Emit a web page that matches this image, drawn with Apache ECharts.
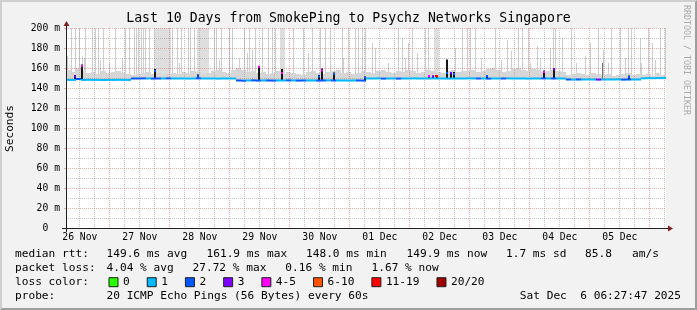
<!DOCTYPE html>
<html>
<head>
<meta charset="utf-8">
<script src="https://cdn.jsdelivr.net/npm/echarts@6.0.0/dist/echarts.min.js"></script>
<style>
html,body{margin:0;padding:0;background:#f2f2f2;}
#chart{width:697px;height:310px;}
</style>
</head>
<body>
<div id="chart"></div>
<script>
// ---------------- data ----------------
const titleText = 'Last 10 Days from SmokePing to Psychz Networks Singapore';
const dayLabels = ['26 Nov','27 Nov','28 Nov','29 Nov','30 Nov','01 Dec','02 Dec','03 Dec','04 Dec','05 Dec'];
const spanHours = 240;            // 26 Nov 06:27:47 .. 06 Dec 06:27:47
const firstMidnightHour = 17.537; // 27 Nov 00:00 in hours after start
const binHours = 2;

// median rtt (ms) per 2 h bin
const medianRtt = [
 148.1,148.1,149.0,148.1,148.2,148.1,148.1,148.0,148.1,148.1,148.2,148.1,148.1,
 149.5,149.5,149.6,149.5,149.4,149.5,149.5,149.6,149.5,149.5,149.5,149.4,149.5,149.6,149.5,149.5,149.5,149.4,149.5,149.5,149.5,
 147.5,147.3,147.5,147.6,147.4,147.5,147.5,147.4,147.5,147.5,147.6,147.5,147.4,147.5,147.5,147.5,147.4,147.5,147.6,147.5,147.5,147.5,147.4,147.5,147.5,147.4,
 149.5,149.5,149.6,149.4,149.5,149.5,149.4,149.5,149.5,149.6,149.5,149.5,149.5,149.6,149.5,149.5,149.4,149.5,149.5,149.5,
 149.6,149.6,149.5,149.5,149.4,149.5,149.5,149.5,149.6,149.5,149.5,149.5,149.4,149.5,149.5,149.6,149.5,149.5,149.5,149.5,
 148.5,148.4,148.5,148.5,148.6,148.5,148.4,148.5,148.5,148.5,148.6,148.4,148.5,148.5,148.5,
 149.7,149.8,149.8,149.9,149.9
];
// loss colour class per bin (index into lossNames)
const lossLevel = [
 1,1,2,1,1,1,1,1,1,1,1,1,1,
 2,2,2,1,2,2,1,2,1,1,1,1,1,2,1,1,1,1,1,1,1,
 2,2,1,2,2,1,2,2,1,1,2,1,2,2,1,1,2,2,1,2,1,1,1,1,2,2,
 1,1,1,2,1,1,2,1,1,1,1,1,1,1,1,1,1,1,1,1,
 1,1,2,1,2,1,1,2,1,1,1,1,1,1,1,2,1,2,1,1,
 2,1,2,1,1,1,3,1,1,1,1,2,2,1,1,
 1,1,1,1,1
];
// upper edge of the smoke just above the median, per bin
const smokeTop = [
 158,156,160,157,155,156,154,157,155,156,157,155,154,
 153,154,155,156,154,155,153,154,155,154,156,155,157,156,154,155,157,158,156,155,158,
 160,158,156,157,155,156,154,155,157,154,156,155,154,153,156,157,155,154,156,157,158,155,156,154,155,157,
 156,155,157,158,156,155,157,156,158,157,155,156,158,157,156,155,157,158,156,157,
 157,158,156,157,159,160,158,156,157,159,160,158,157,159,158,156,157,158,157,156,
 153,154,155,154,153,155,154,153,154,152,153,154,155,153,154,
 153,154,152,155,153
];
// single outlier pings (hour, highest rtt ms)
const outlierHour = [2.3,3.9,5.5,7.9,10.5,11.9,12.9,14.8,19.9,23.9,25.2,27.2,28.3,28.9,30.0,30.9,31.9,33.2,42.5,44.5,46.3,48.9,49.9,51.2,59.2,60.1,62.3,65.2,66.5,71.2,73.2,75.9,78.5,81.1,82.4,83.7,91.1,95.1,98.4,101.7,103.7,105.7,110.4,113.1,115.7,117.1,118.4,119.7,133.0,138.4,143.7,145.1,158.4,160.4,161.6,163.9,171.6,180.9,182.7,184.9,194.9,195.9,202.3,212.9,218.3,221.6,224.9,226.3,232.9,237.6,239.6,
 0.5,6.6,7.2,13.9,17.2,22.5,45.2,61.2,69.2,72.5,74.5,96.9,110.9,122.4,123.7,128.9,134.4,135.7,137.1,140.4,155.7,166.3,174.3,176.4,178.3,185.6,188.4,189.6,193.6,198.4,204.3,207.6,209.7,215.0,216.9,223.6,229.7,230.3,234.4,235.6];
const outlierTop = [200,200,200,200,200,200,200,200,200,200,200,200,200,200,200,200,200,200,200,200,200,200,200,200,200,200,200,200,200,200,200,200,200,200,200,200,200,200,200,200,200,200,200,200,200,200,200,200,200,200,200,200,200,200,200,200,200,200,200,200,200,200,200,200,200,200,200,200,200,200,200,
 172,172,170,168,165,170,165,168,170,175,178,175,170,185,180,165,190,170,185,175,180,170,168,188,177,165,182,170,180,190,165,172,185,178,165,170,190,165,185,168];
// dense periods of outliers (hours)
const bandFrom = [35.2, 52.5, 85.7, 147.1];
const bandTo   = [41.9, 57.2, 87.5, 149.1];
// short episodes with raised median
const peakHour   = [3.5, 6.5, 35.7, 52.7, 77.0, 86.3, 101.2, 102.5, 107.0, 119.7, 145.0, 146.6, 148.2, 152.3, 153.9, 155.3, 168.5, 191.0, 195.0, 225.3];
const peakMedian = [151.5,161.9,157.0,151.5,161.2,155.0,151.5,157.5,154.0,150.5,152.0,151.5,152.0,155.0,155.0,154.0,152.0,156.0,158.5,151.0];
const peakTop    = [153.0,163.5,159.0,153.5,162.0,159.0,153.0,159.5,155.5,151.5,153.0,152.5,153.0,168.5,156.0,156.0,153.0,157.5,160.0,152.5];
const peakLoss   = [3,4,2,2,4,4,2,4,2,2,4,3,6,2,3,2,2,4,3,2];
const greySpikeHour = [214.7];
const greySpikeTop  = [165];

const lossNames  = ['0','1','2','3','4-5','6-10','11-19','20/20'];
const lossColors = ['#26ff00','#00b8ff','#0059ff','#7e00ff','#ff00ff','#ff5500','#ff0000','#a00000'];

// ---------------- layout / style ----------------
const FONT = '"DejaVu Sans Mono", monospace';
const W = 697, H = 310;
const gLeft = 66, gTop = 28, gW = 600, gH = 200;
const C = {canvas:'#ffffff', back:'#f2f2f2', shadeA:'#cfcfcf', shadeB:'#9e9e9e',
  grid:'rgba(143,143,143,0.5)', mgrid:'rgba(222,79,79,0.45)', font:'#000000',
  arrow:'#801f1f', axis:'#1f1f1f', water:'#aaaaaa'};
const FS_TITLE = 13.2, FS_LEG = 11.16, FS_AXIS = 9.72;

// grid positions (hours / ms)
const noonHours = dayLabels.map((d, k) => firstMidnightHour - 12 + 24 * k);
const vGrid = [];
for (let h = firstMidnightHour - 12; h <= spanHours; h += 6) {
  const k = Math.round((h - firstMidnightHour) / 6);
  vGrid.push([h, (k % 4 === 0) ? 1 : 0]);
}
const hGrid = [];
for (let v = 10; v <= 200; v += 10) hGrid.push([v, (v % 20 === 0) ? 1 : 0]);

// ---------------- renderers ----------------
const spanRect = fill => (params, api) => {  // [h0, h1, lo, hi]
  const a = api.coord([api.value(0), api.value(3)]);
  const b = api.coord([api.value(1), api.value(2)]);
  const x0 = Math.round(a[0]), x1 = Math.max(Math.round(b[0]), x0 + 1);
  return {type:'rect', shape:{x:x0, y:a[1], width:x1 - x0, height:b[1] - a[1]},
    style:{fill: fill || api.visual('color')}};
};
const column = (wpx, fill) => (params, api) => {  // [h, lo, hi]
  const a = api.coord([api.value(0), api.value(2)]);
  const b = api.coord([api.value(0), api.value(1)]);
  const x0 = Math.floor(a[0] - wpx / 2 + 0.5);
  return {type:'rect', shape:{x:x0, y:a[1], width:wpx, height:b[1] - a[1]}, style:{fill}};
};

const baseOf = h => medianRtt[Math.min(medianRtt.length - 1, Math.floor(h / binHours))];

const series = [];
series.push({type:'custom', name:'bands', silent:true, clip:true, z:1,
  data: bandFrom.map((f, i) => [f, bandTo[i], baseOf(f), 200]), renderItem: spanRect('#dedede')});
series.push({type:'custom', name:'outliers', silent:true, clip:true, z:1,
  data: outlierHour.map((h, i) => [h, baseOf(h), outlierTop[i]]), renderItem: column(1, '#cdcdcd')});
series.push({type:'custom', name:'smoke', silent:true, clip:true, z:1,
  data: smokeTop.map((t, i) => [i * binHours, (i + 1) * binHours, medianRtt[i], t]), renderItem: spanRect('#d6d6d6')});
series.push({type:'custom', name:'greySmoke', silent:true, clip:true, z:1,
  data: greySpikeHour.map((h, i) => [h, baseOf(h), greySpikeTop[i]]), renderItem: column(1, '#707070')});
// grid lines
series.push({type:'custom', name:'vgrid', silent:true, z:2, data: vGrid,
  renderItem: (params, api) => {
    const p = api.coord([api.value(0), 0]), q = api.coord([api.value(0), 200]);
    const x = Math.floor(p[0]) + 0.5;
    return {type:'line', shape:{x1:x, y1:q[1], x2:x, y2:p[1]},
      style:{stroke: api.value(1) ? C.mgrid : C.grid, lineWidth:1, lineDash:[1,1]}};
  }});
series.push({type:'custom', name:'hgrid', silent:true, z:2, data: hGrid,
  renderItem: (params, api) => {
    const p = api.coord([0, api.value(0)]), q = api.coord([spanHours, api.value(0)]);
    const y = Math.floor(p[1]) + 0.5;
    return {type:'line', shape:{x1:p[0], y1:y, x2:q[0], y2:y},
      style:{stroke: api.value(1) ? C.mgrid : C.grid, lineWidth:1, lineDash:[1,1]}};
  }});
// dense smoke of the episodes
series.push({type:'custom', name:'peakSmoke', silent:true, clip:true, z:3,
  data: peakHour.map((h, i) => [h, baseOf(h), peakTop[i]]), renderItem: column(2, '#161616')});
// median, one series per loss class
lossNames.forEach((name, lvl) => {
  const data = [];
  medianRtt.forEach((m, i) => { if (lossLevel[i] === lvl) data.push([i * binHours, (i + 1) * binHours, m - 1, m + 1]); });
  peakHour.forEach((h, i) => { if (peakLoss[i] === lvl) data.push([h - 0.4, h + 0.4, peakMedian[i] - 1, peakMedian[i] + 1]); });
  series.push({type:'custom', name, clip:true, z:4, silent:true,
    itemStyle:{color: lossColors[lvl]}, data, renderItem: spanRect(null)});
});

// ---------------- decorations & text ----------------
const txt = (x, y, text, size, extra) => Object.assign({type:'text', x, y, silent:true, z:100,
  style:Object.assign({text, fontFamily:FONT, fontSize:size, fill:C.font, align:'left', verticalAlign:'middle'}, (extra && extra.style) || {})},
  extra ? {rotation: extra.rotation || 0} : {});

const yO = gTop + gH;          // y of value 0
const xR = gLeft + gW;         // right edge
const graphic = [
  {type:'polygon', silent:true, z:-10, shape:{points:[[0,H],[2,H-2],[2,2],[W-2,2],[W,0],[0,0]]}, style:{fill:C.shadeA}},
  {type:'polygon', silent:true, z:-10, shape:{points:[[2,H-2],[W-2,H-2],[W-2,2],[W,0],[W,H],[0,H]]}, style:{fill:C.shadeB}},
  {type:'line', silent:true, z:100, shape:{x1:gLeft-4, y1:yO+0.5, x2:xR+4, y2:yO+0.5}, style:{stroke:C.axis, lineWidth:1}},
  {type:'line', silent:true, z:100, shape:{x1:gLeft+0.5, y1:yO+4, x2:gLeft+0.5, y2:gTop-4}, style:{stroke:C.axis, lineWidth:1}},
  {type:'polygon', silent:true, z:100, shape:{points:[[xR+2,yO-2.5],[xR+2,yO+3.5],[xR+7,yO+0.5]]}, style:{fill:C.arrow}},
  {type:'polygon', silent:true, z:100, shape:{points:[[gLeft-2.5,gTop-2],[gLeft+3.5,gTop-2],[gLeft+0.5,gTop-7]]}, style:{fill:C.arrow}},
  txt(348.5, 18.7, titleText, FS_TITLE, {style:{align:'center'}}),
  txt(10.4, 128.5, 'Seconds', FS_LEG, {rotation: Math.PI/2, style:{align:'center'}}),
  txt(686.3, 5, 'RRDTOOL / TOBI OETIKER', 8.3, {rotation: -Math.PI/2, style:{fill:C.water}}),
  txt(15, 254.4, 'median rtt:', FS_LEG),
  txt(106.5, 254.4, '149.6 ms avg', FS_LEG),
  txt(206.5, 254.4, '161.9 ms max', FS_LEG),
  txt(306, 254.4, '148.0 ms min', FS_LEG),
  txt(406.5, 254.4, '149.9 ms now', FS_LEG),
  txt(506, 254.4, '1.7 ms sd', FS_LEG),
  txt(585, 254.4, '85.8   am/s', FS_LEG),
  txt(15, 268.4, 'packet loss:', FS_LEG),
  txt(106.5, 268.4, '4.04 % avg', FS_LEG),
  txt(192.5, 268.4, '27.72 % max', FS_LEG),
  txt(285.3, 268.4, '0.16 % min', FS_LEG),
  txt(371.5, 268.4, '1.67 % now', FS_LEG),
  txt(15, 282.4, 'loss color:', FS_LEG),
  txt(15, 296.1, 'probe:', FS_LEG),
  txt(106.5, 296.1, '20 ICMP Echo Pings (56 Bytes) every 60s', FS_LEG),
  txt(681, 296.1, 'Sat Dec  6 06:27:47 2025', FS_LEG, {style:{align:'right'}})
];

const chart = echarts.init(document.getElementById('chart'), null, {renderer:'canvas'});
chart.setOption({
  animation:false,
  backgroundColor:C.back,
  grid:{left:gLeft, top:gTop, width:gW, height:gH, show:true, backgroundColor:C.canvas, borderWidth:0, containLabel:false, outerBoundsMode:'none'},
  legend:{data:lossNames, left:108.5, top:276.7, padding:0, itemWidth:9, itemHeight:9, itemGap:17, icon:'rect',
    selectedMode:false, textStyle:{fontFamily:FONT, fontSize:FS_LEG, color:C.font},
    itemStyle:{borderColor:C.axis, borderWidth:1}},
  xAxis:{type:'value', min:0, max:spanHours, axisLine:{show:false}, axisTick:{show:false}, splitLine:{show:false},
    axisLabel:{customValues:noonHours, formatter:v => dayLabels[Math.round((v - noonHours[0]) / 24)] || '',
      fontFamily:FONT, fontSize:FS_AXIS, color:C.font, margin:4}},
  yAxis:{type:'value', min:0, max:200, interval:20, axisLine:{show:false},
    axisTick:{show:true, length:2, lineStyle:{color:C.mgrid}}, splitLine:{show:false},
    axisLabel:{formatter:v => v === 0 ? '0  ' : v + ' m', fontFamily:FONT, fontSize:FS_AXIS, color:C.font, margin:6}},
  graphic,
  series
});
</script>
</body>
</html>
